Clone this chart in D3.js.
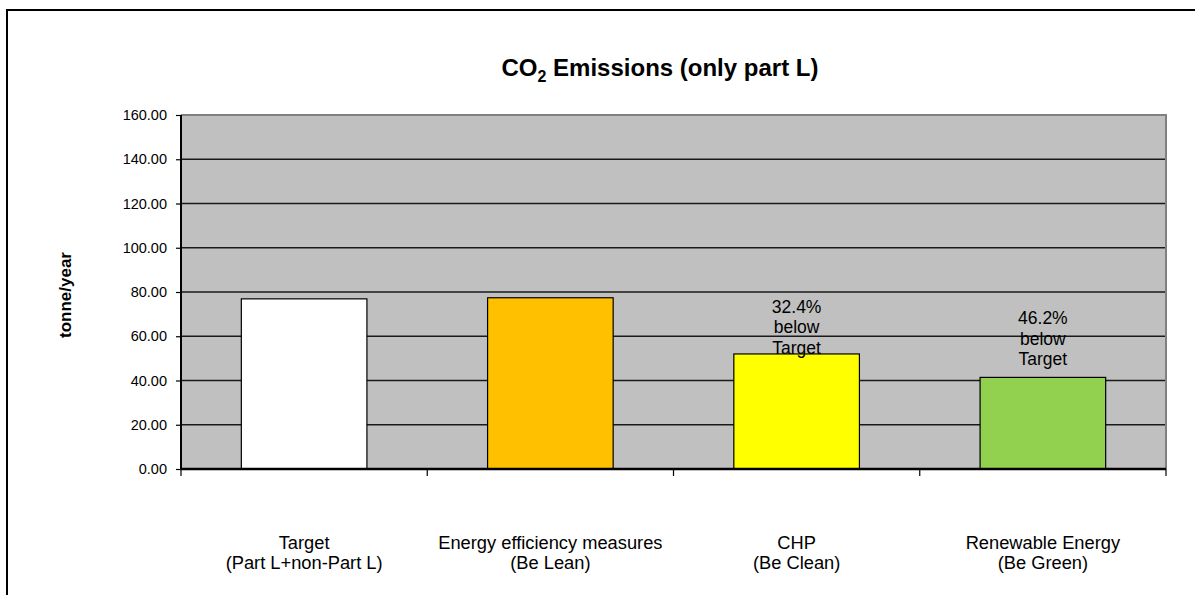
<!DOCTYPE html>
<html>
<head>
<meta charset="utf-8">
<script src="https://cdn.jsdelivr.net/npm/d3@7"></script>
<style>
  html, body { margin: 0; padding: 0; background: #fff; }
  svg { display: block; font-family: "Liberation Sans", Arial, sans-serif; }
</style>
</head>
<body>
<svg id="chart" width="1195" height="595"></svg>
<script>
// Scenario categories (two-line labels)
const categoryLine1 = ["Target", "Energy efficiency measures", "CHP", "Renewable Energy"];
const categoryLine2 = ["(Part L+non-Part L)", "(Be Lean)", "(Be Clean)", "(Be Green)"];
// CO2 emissions, tonne/year
const emissions = [76.9, 77.4, 52.0, 41.4];
// Reduction against target shown above the last two bars
const reductionPct = [null, null, 32.4, 46.2];
const barColors = ["#FFFFFF", "#FFC000", "#FFFF00", "#92D050"];
const yTicks = [0, 20, 40, 60, 80, 100, 120, 140, 160];

const svg = d3.select("#chart");
const W = 1195, H = 595;
const plot = { left: 181, right: 1166, top: 115, bottom: 469 };

// Outer chart frame (runs off the right and bottom edges)
svg.append("path")
  .attr("d", `M7,${H + 5} L7,10 L${W + 5},10`)
  .attr("fill", "none").attr("stroke", "#000").attr("stroke-width", 2);

const x = d3.scaleBand()
  .domain(d3.range(categoryLine1.length))
  .range([plot.left, plot.right])
  .paddingInner(0.49).paddingOuter(0.245);

const xCat = d3.scaleBand()
  .domain(d3.range(categoryLine1.length))
  .range([plot.left, plot.right]);

const y = d3.scaleLinear().domain([0, 160]).range([plot.bottom, plot.top]);

// Plot area background
svg.append("rect")
  .attr("x", plot.left).attr("y", plot.top)
  .attr("width", plot.right - plot.left).attr("height", plot.bottom - plot.top)
  .attr("fill", "#C0C0C0");

// Horizontal gridlines
svg.append("g")
  .selectAll("line")
  .data(yTicks.filter(t => t > 0 && t < 160))
  .join("line")
  .attr("x1", plot.left).attr("x2", plot.right)
  .attr("y1", d => y(d)).attr("y2", d => y(d))
  .attr("stroke", "#1a1a1a").attr("stroke-width", 1.3);

// Plot border: grey top and right edges
svg.append("path")
  .attr("d", `M${plot.left},${plot.top} L${plot.right},${plot.top} L${plot.right},${plot.bottom}`)
  .attr("fill", "none").attr("stroke", "#808080").attr("stroke-width", 2);

// Bars
svg.append("g")
  .selectAll("rect")
  .data(emissions)
  .join("rect")
  .attr("x", (d, i) => x(i))
  .attr("y", d => y(d))
  .attr("width", x.bandwidth())
  .attr("height", d => y(0) - y(d))
  .attr("fill", (d, i) => barColors[i])
  .attr("stroke", "#000").attr("stroke-width", 1.2);

// Y axis
const yAxis = d3.axisLeft(y).tickValues(yTicks).tickFormat(d3.format(".2f")).tickSize(5).tickPadding(9);
const gy = svg.append("g").attr("transform", `translate(${plot.left},0)`).call(yAxis);
gy.select(".domain").attr("stroke", "#000").attr("stroke-width", 2).attr("d", `M0,${plot.top}V${plot.bottom}`);
gy.selectAll(".tick line").attr("stroke", "#000").attr("stroke-width", 1.2);
gy.selectAll(".tick text").attr("font-size", 14.5).attr("fill", "#000")
  .attr("font-family", "Liberation Sans, Arial, sans-serif");

// X axis with ticks at category boundaries
const gx = svg.append("g").attr("transform", `translate(0,${plot.bottom})`);
gx.append("line").attr("x1", plot.left - 1).attr("x2", plot.right)
  .attr("stroke", "#000").attr("stroke-width", 2.5);
const boundaries = d3.range(categoryLine1.length + 1).map(i => i < categoryLine1.length ? xCat(i) : plot.right);
gx.selectAll(".bound")
  .data(boundaries)
  .join("line")
  .attr("x1", d => d).attr("x2", d => d)
  .attr("y1", 0).attr("y2", 7)
  .attr("stroke", "#000").attr("stroke-width", 1.2);

// Category labels
const catLabels = svg.append("g")
  .attr("font-size", 18.3).attr("fill", "#000").attr("text-anchor", "middle");
categoryLine1.forEach((t, i) => {
  const cx = xCat(i) + xCat.bandwidth() / 2;
  const txt = catLabels.append("text").attr("x", cx).attr("y", 549);
  txt.append("tspan").attr("x", cx).text(t);
  txt.append("tspan").attr("x", cx).attr("dy", 19.5).text(categoryLine2[i]);
});

// Reduction labels above bars
const labelLift = [0, 0, 0, 12];
svg.append("g")
  .selectAll("text")
  .data(emissions.map((v, i) => ({ v, i, p: reductionPct[i] })).filter(d => d.p !== null))
  .join("text")
  .attr("text-anchor", "middle").attr("font-size", 17.5).attr("fill", "#000")
  .each(function (d) {
    const cx = x(d.i) + x.bandwidth() / 2;
    const base = y(d.v) - labelLift[d.i];
    const t = d3.select(this);
    const lines = [d.p.toFixed(1) + "%", "below", "Target"];
    lines.forEach((s, k) => {
      t.append("tspan").attr("x", cx).attr("y", base - (lines.length - 1 - k) * 20.7).text(s);
    });
  });

// Y axis title
svg.append("text")
  .attr("transform", `translate(71,${(plot.top + plot.bottom) / 2 + 3}) rotate(-90)`)
  .attr("text-anchor", "middle").attr("font-size", 17).attr("font-weight", "bold")
  .text("tonne/year");

// Chart title with subscript
const title = svg.append("text")
  .attr("x", 660).attr("y", 76)
  .attr("text-anchor", "middle").attr("font-size", 24).attr("font-weight", "bold");
title.append("tspan").text("CO");
title.append("tspan").attr("font-size", 16).attr("dy", 6).text("2");
title.append("tspan").attr("dy", -6).text(" Emissions (only part L)");
</script>
</body>
</html>
